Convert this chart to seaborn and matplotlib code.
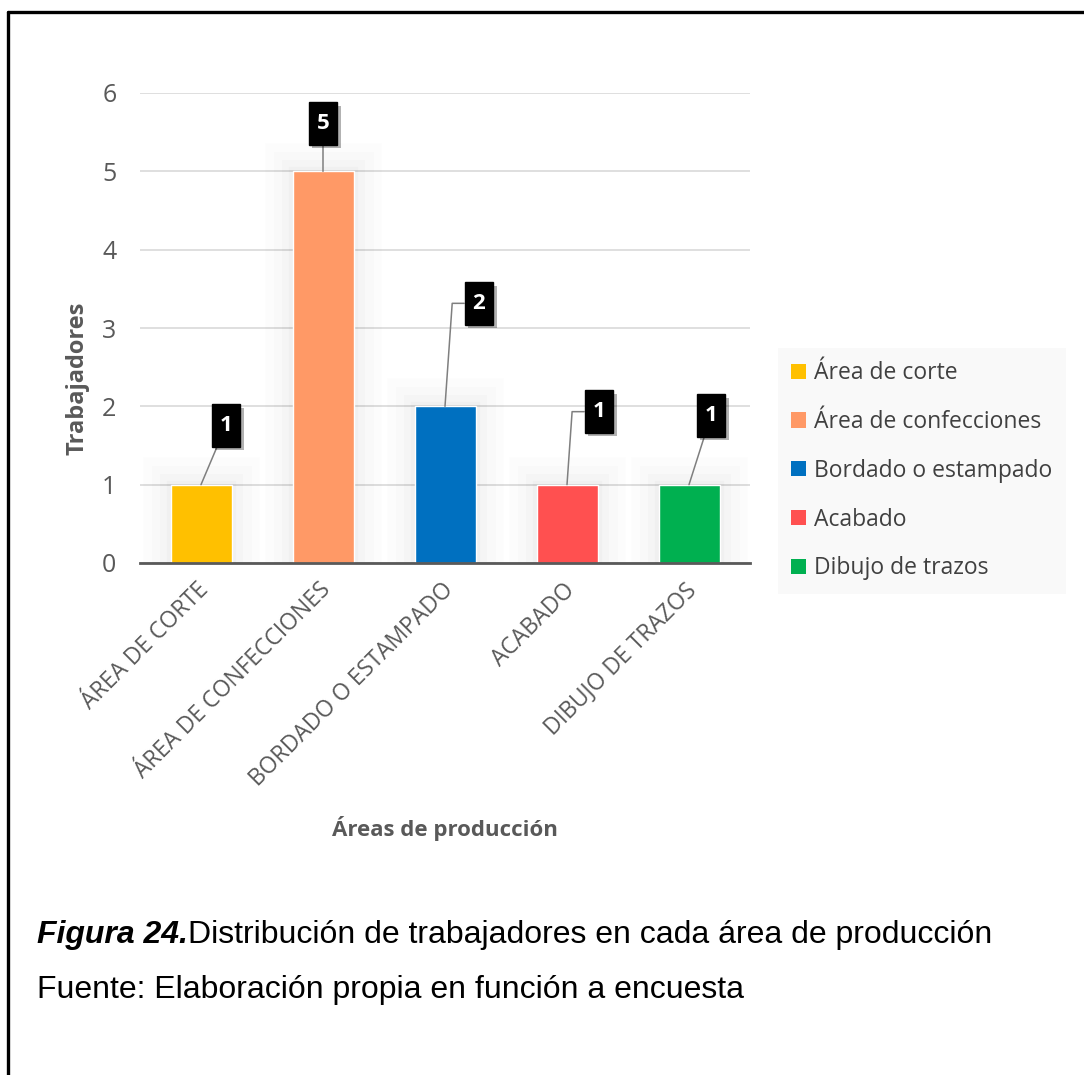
import matplotlib
matplotlib.use("Agg")
import matplotlib.pyplot as plt
import matplotlib.patheffects as pe
from matplotlib.patches import Patch
from matplotlib.lines import Line2D
from matplotlib.transforms import ScaledTranslation
import seaborn as sns

# Data
areas = ["ÁREA DE CORTE", "ÁREA DE CONFECCIONES", "BORDADO O ESTAMPADO", "ACABADO", "DIBUJO DE TRAZOS"]
leyenda = ["Área de corte", "Área de confecciones", "Bordado o estampado", "Acabado", "Dibujo de trazos"]
trabajadores = [1, 5, 2, 1, 1]
colores = ["#FFC000", "#FF9966", "#0070C0", "#FF5050", "#00B050"]

# label box offsets from bar top (pixels) and leader shape
label_dx = [25, 0, 34, 32, 22]
label_dy = [59, 48, 103, 73, 69]
label_elbow = [False, False, True, True, False]

sns.set_style("white")
plt.rcParams["font.family"] = ["Open Sans", "DejaVu Sans"]

gris = "#595959"

fig = plt.figure(figsize=(10.84, 10.75), dpi=100)
ax = fig.add_axes([140 / 1084, 1 - 563 / 1075, 610 / 1084, 470 / 1075])

sns.barplot(x=areas, y=trabajadores, hue=areas, palette=colores, width=0.5,
            saturation=1, legend=False, ax=ax, zorder=3)

# soft glow around bars
for bar in ax.patches:
    bar.set_path_effects([
        pe.Stroke(linewidth=40, foreground="black", alpha=0.01),
        pe.Stroke(linewidth=28, foreground="black", alpha=0.012),
        pe.Stroke(linewidth=16, foreground="black", alpha=0.015),
        pe.Stroke(linewidth=6, foreground="black", alpha=0.02),
        pe.Normal(),
    ])

ax.set_xlim(-0.5, 4.5)
ax.set_ylim(0, 6)
ax.set_yticks(range(0, 7))
ax.yaxis.grid(True, color="#D9D9D9", linewidth=1.2)
ax.set_axisbelow(True)
for s in ["top", "right", "left"]:
    ax.spines[s].set_visible(False)
ax.spines["bottom"].set_color(gris)
ax.spines["bottom"].set_linewidth(2)
ax.spines["bottom"].set_zorder(4)

ax.tick_params(axis="y", length=0, labelsize=18, labelcolor=gris, pad=17)
ax.set_xticks([i - 0.5 for i in range(6)], minor=True)
ax.tick_params(axis="x", which="minor", length=7, width=2, color=gris, direction="out")
ax.tick_params(axis="x", which="major", length=0, labelsize=16.5, labelcolor=gris, pad=11)
for lab in ax.get_xticklabels():
    lab.set_rotation(45)
    lab.set_ha("right")
    lab.set_va("top")
    lab.set_rotation_mode("anchor")
    lab.set_transform(lab.get_transform() + ScaledTranslation(-4 / 100, 0, fig.dpi_scale_trans))

ax.set_xlabel("Áreas de producción", fontsize=16, fontweight="bold", color=gris)
ax.xaxis.set_label_coords(0.5, -(816 - 563) / 470)
ax.set_ylabel("Trabajadores", fontsize=17, fontweight="bold", color=gris)
ax.yaxis.set_label_coords(-(140 - 90) / 610, (563 - 378) / 470)

# data labels
for i, v in enumerate(trabajadores):
    if label_elbow[i]:
        cs = "angle,angleA=0,angleB=86,rad=0"
    else:
        cs = "arc3,rad=0"
    ann = ax.annotate(str(v), xy=(i, v), xytext=(label_dx[i], label_dy[i]),
                      textcoords="offset pixels", ha="center", va="center",
                      fontsize=16, fontweight="bold", color="white", zorder=6,
                      bbox=dict(boxstyle="square,pad=0.36", fc="black", ec="black",
                                mutation_aspect=1.35),
                      arrowprops=dict(arrowstyle="-", color="#7F7F7F", lw=1.1,
                                      shrinkA=0, shrinkB=0, connectionstyle=cs))
    ann.get_bbox_patch().set_path_effects([
        pe.SimplePatchShadow(offset=(2.5, -2.5), shadow_rgbFace="black", alpha=0.3),
        pe.Normal(),
    ])

# legend
handles = [Patch(facecolor=c, edgecolor="none") for c in colores]
leg = fig.legend(handles, leyenda, loc="upper left",
                 bbox_to_anchor=(778 / 1084, 1 - 348 / 1075),
                 fontsize=16.5, frameon=True, fancybox=False,
                 handlelength=0.65, handleheight=0.65, handletextpad=0.35,
                 labelspacing=1.08, borderpad=0.58, borderaxespad=0)
leg.get_frame().set_facecolor("#F8F8F8")
leg.get_frame().set_edgecolor("none")
for t in leg.get_texts():
    t.set_color("#404040")

# page border
fig.add_artist(Line2D([8 / 1084, 8 / 1084], [0, 1 - 12 / 1075], transform=fig.transFigure,
                      color="black", lw=2.4))
fig.add_artist(Line2D([8 / 1084, 1], [1 - 12 / 1075, 1 - 12 / 1075], transform=fig.transFigure,
                      color="black", lw=2.4))

# caption
cap_font = ["Liberation Sans", "DejaVu Sans"]
fig.canvas.draw()
t1 = fig.text(37 / 1084, 1 - 935 / 1075, "Figura 24.", fontsize=23, fontweight="bold",
              fontstyle="italic", family=cap_font, va="center", color="black")
fig.canvas.draw()
bb = t1.get_window_extent()
fig.text(bb.x1 / 1084, 1 - 935 / 1075, "Distribución de trabajadores en cada área de producción",
         fontsize=23, family=cap_font, va="center", color="black")
fig.text(37 / 1084, 1 - 990 / 1075, "Fuente: Elaboración propia en función a encuesta",
         fontsize=23, family=cap_font, va="center", color="black")

fig.savefig("out.png", dpi=100)
